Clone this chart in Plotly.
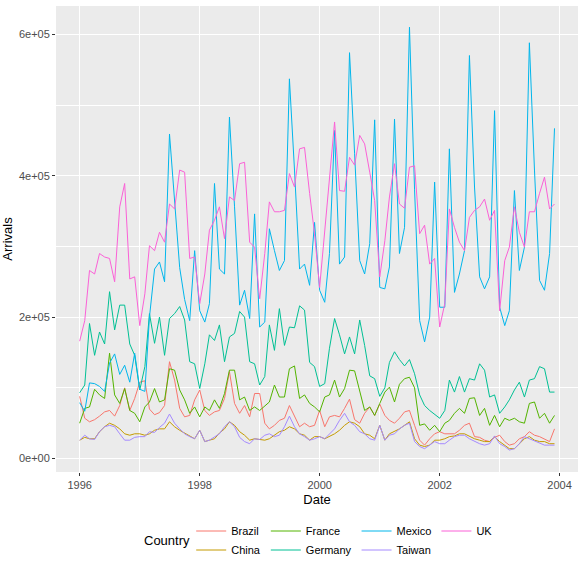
import numpy as np
import pandas as pd
import plotly.graph_objects as go

# Monthly arrivals (thousands), Jan 1996 .. Dec 2003
dates = pd.date_range("1996-01-01", periods=96, freq="MS")

brazil_k = [88, 57, 52, 55, 60, 66, 68, 60, 75, 100, 68, 85,
            108, 110, 70, 62, 65, 75, 137, 111, 71, 59, 61, 83,
            97, 68, 61, 66, 68, 85, 123, 78, 64, 75, 59, 92,
            92, 50, 42, 47, 54, 57, 75, 61, 45, 50, 45, 47,
            68, 45, 59, 61, 59, 71, 84, 55, 50, 64, 73, 61,
            77, 61, 54, 50, 57, 66, 68, 47, 26, 19, 28, 35,
            38, 35, 35, 35, 40, 47, 50, 31, 30, 26, 24, 30,
            33, 24, 19, 21, 28, 31, 38, 33, 31, 28, 24, 42]

china_k = [26, 30, 28, 28, 38, 45, 50, 47, 42, 35, 33, 35,
           35, 33, 35, 40, 42, 42, 52, 45, 40, 36, 33, 28,
           40, 24, 26, 28, 36, 42, 52, 47, 38, 33, 26, 28,
           27, 26, 28, 33, 38, 40, 45, 42, 35, 33, 26, 31,
           31, 28, 31, 35, 40, 47, 52, 50, 45, 35, 33, 28,
           47, 26, 35, 38, 42, 47, 52, 28, 19, 17, 19, 26,
           26, 28, 31, 32, 35, 35, 31, 28, 26, 24, 24, 31,
           24, 19, 14, 14, 21, 28, 31, 26, 24, 24, 21, 21]

france_k = [50, 71, 73, 98, 90, 85, 149, 90, 78, 99, 68, 64,
            52, 73, 80, 99, 80, 83, 127, 125, 97, 83, 64, 73,
            59, 73, 68, 83, 71, 92, 125, 125, 83, 87, 68, 73,
            68, 75, 80, 104, 87, 87, 127, 131, 85, 90, 78, 73,
            66, 87, 90, 111, 87, 99, 125, 124, 97, 68, 73, 61,
            78, 94, 101, 80, 105, 113, 115, 100, 47, 49, 40, 47,
            38, 50, 54, 64, 71, 64, 85, 86, 61, 71, 47, 61,
            45, 57, 54, 57, 52, 50, 78, 80, 57, 64, 50, 61]

germany_k = [93, 104, 191, 146, 179, 162, 236, 182, 217, 217, 162, 146,
             97, 130, 205, 163, 200, 146, 198, 205, 215, 196, 137, 134,
             99, 134, 175, 167, 189, 137, 172, 177, 208, 200, 137, 134,
             104, 116, 189, 153, 212, 160, 186, 185, 216, 210, 136, 130,
             102, 106, 156, 198, 175, 148, 172, 148, 196, 160, 117, 113,
             88, 100, 136, 151, 140, 131, 140, 120, 90, 75, 68, 62,
             57, 68, 111, 94, 116, 94, 113, 111, 134, 125, 87, 90,
             64, 73, 83, 97, 108, 87, 111, 113, 130, 127, 94, 94]

mexico_k = [79, 67, 107, 106, 102, 95, 135, 148, 119, 132, 108, 149,
            98, 95, 200, 268, 278, 250, 459, 360, 270, 225, 195, 294,
            209, 193, 219, 389, 268, 261, 483, 356, 217, 238, 198, 346,
            186, 193, 325, 294, 266, 280, 537, 408, 268, 275, 245, 334,
            238, 221, 290, 464, 275, 285, 574, 431, 280, 261, 304, 479,
            242, 240, 271, 480, 290, 327, 610, 380, 195, 165, 200, 391,
            214, 214, 438, 235, 261, 294, 570, 384, 257, 240, 257, 492,
            214, 188, 209, 379, 266, 299, 588, 408, 252, 238, 290, 467]

taiwan_k = [26, 33, 28, 27, 38, 45, 47, 45, 35, 26, 26, 30,
            31, 31, 38, 37, 44, 50, 63, 50, 42, 35, 31, 28,
            40, 24, 26, 31, 35, 45, 52, 45, 30, 24, 21, 28,
            27, 33, 35, 31, 33, 45, 60, 45, 35, 31, 26, 28,
            31, 28, 35, 42, 54, 64, 52, 47, 38, 35, 28, 26,
            47, 26, 33, 35, 42, 47, 50, 24, 17, 14, 19, 24,
            21, 21, 26, 31, 33, 33, 28, 24, 21, 19, 21, 32,
            21, 17, 12, 14, 21, 31, 28, 24, 21, 19, 19, 19]

uk_k = [166, 195, 266, 261, 290, 285, 283, 250, 356, 389, 254, 257,
        188, 233, 301, 294, 320, 306, 360, 353, 408, 405, 283, 285,
        219, 261, 323, 337, 356, 311, 370, 365, 417, 419, 306, 299,
        226, 290, 363, 349, 349, 351, 403, 384, 438, 440, 375, 318,
        242, 325, 398, 476, 379, 378, 426, 415, 457, 445, 405, 365,
        257, 308, 370, 417, 360, 354, 412, 414, 318, 330, 275, 283,
        186, 219, 353, 327, 306, 294, 341, 351, 356, 367, 337, 351,
        209, 280, 299, 356, 320, 299, 349, 349, 375, 398, 353, 360]

countries = ["Brazil", "China", "France", "Germany", "Mexico", "Taiwan", "UK"]
series = [brazil_k, china_k, france_k, germany_k, mexico_k, taiwan_k, uk_k]
colors = ["#F8766D", "#C49A00", "#53B400", "#00C094", "#00B6EB", "#A58AFF", "#FB61D7"]
# ggplot fills the 2-row legend column-wise -> one legend column per group
legend_column = ["c1", "c1", "c2", "c2", "c3", "c3", "c4"]

y_tickvals = [0, 200000, 400000, 600000]
y_ticktext = ["0e+00", "2e+05", "4e+05", "6e+05"]
y_minor = [100000, 300000, 500000]
x_tickvals = ["1996-01-01", "1998-01-01", "2000-01-01", "2002-01-01", "2004-01-01"]
x_ticktext = ["1996", "1998", "2000", "2002", "2004"]
x_minor = ["1997-01-01", "1999-01-01", "2001-01-01", "2003-01-01"]

fig = go.Figure()
for name, vals, col, grp in zip(countries, series, colors, legend_column):
    fig.add_trace(go.Scatter(
        x=dates, y=np.array(vals) * 1000, mode="lines", name=name,
        line=dict(color=col, width=1), legendgroup=grp,
    ))

font_family = "Liberation Sans, Arial, sans-serif"
fig.update_layout(
    width=585, height=573,
    margin=dict(l=56, r=7, t=6, b=101, autoexpand=False),
    paper_bgcolor="white",
    plot_bgcolor="#EBEBEB",
    font=dict(family=font_family, size=11, color="#4D4D4D"),
    showlegend=True,
    legend=dict(
        orientation="h", traceorder="grouped", tracegroupgap=0,
        x=0.259, xanchor="left", y=-0.0955, yanchor="top",
        font=dict(size=11, color="black"),
        bgcolor="rgba(0,0,0,0)", groupclick="toggleitem",
    ),
    annotations=[dict(
        text="Country", xref="paper", yref="paper", x=0.164, y=-0.148,
        xanchor="left", yanchor="middle", showarrow=False,
        font=dict(size=13, color="black", family=font_family),
    )],
)
fig.update_xaxes(
    type="date",
    range=["1995-08-10", "2004-04-22"],
    tickvals=x_tickvals, ticktext=x_ticktext,
    showgrid=True, gridcolor="white", gridwidth=1.1,
    ticks="outside", ticklen=3, tickcolor="#333333", tickwidth=1,
    tickfont=dict(size=11, color="#4D4D4D"),
    minor=dict(tickvals=x_minor, showgrid=True, gridcolor="white", gridwidth=0.5, ticks=""),
    zeroline=False, showline=False,
    title=dict(text="Date", font=dict(size=13, color="black"), standoff=4),
)
fig.update_yaxes(
    range=[-19000, 640000],
    tickvals=y_tickvals, ticktext=y_ticktext,
    showgrid=True, gridcolor="white", gridwidth=1.1,
    ticks="outside", ticklen=3, tickcolor="#333333", tickwidth=1,
    tickfont=dict(size=11, color="#4D4D4D"),
    minor=dict(tickvals=y_minor, showgrid=True, gridcolor="white", gridwidth=0.5, ticks=""),
    zeroline=False, showline=False,
    title=dict(text="Arrivals", font=dict(size=13, color="black"), standoff=4),
)

fig.write_html("out.html")
